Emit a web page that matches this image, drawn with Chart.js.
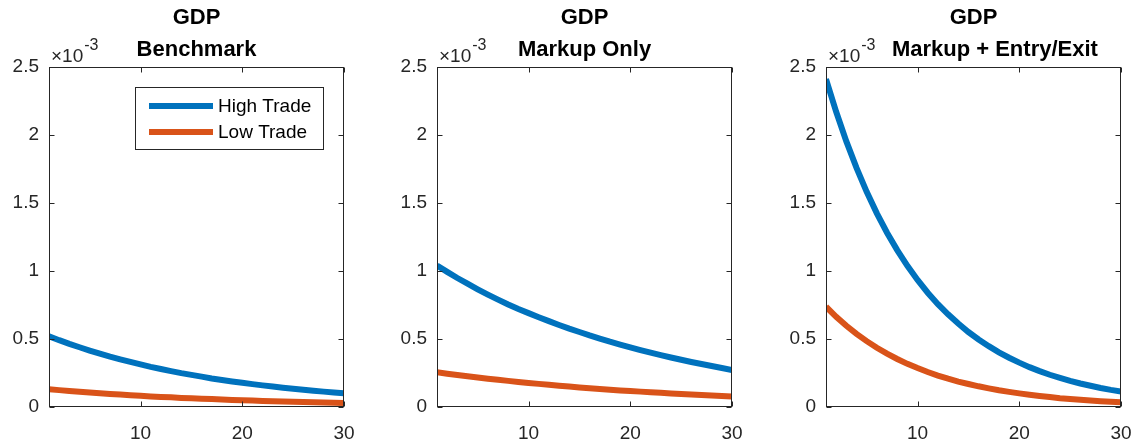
<!DOCTYPE html>
<html>
<head>
<meta charset="utf-8">
<script src="https://cdn.jsdelivr.net/npm/chart.js@4.4.1/dist/chart.umd.min.js"></script>
<style>
  html, body { margin: 0; padding: 0; background: #fff; }
  #wrap { position: relative; width: 1147px; height: 441px; overflow: hidden; }
  #wrap canvas { position: absolute; left: 0; top: 0; }
</style>
</head>
<body>
<div id="wrap">
  <canvas id="p1" width="1147" height="441"></canvas>
  <canvas id="p2" width="1147" height="441"></canvas>
  <canvas id="p3" width="1147" height="441"></canvas>
</div>
<script>
// values are in units of 1e-3
const periods = [1,2,3,4,5,6,7,8,9,10,11,12,13,14,15,16,17,18,19,20,21,22,23,24,25,26,27,28,29,30];

const benchHigh = [0.520,0.491,0.464,0.439,0.415,0.392,0.370,0.350,0.331,0.313,0.295,0.279,0.264,0.249,0.236,
                   0.223,0.210,0.199,0.188,0.178,0.168,0.159,0.150,0.142,0.134,0.126,0.119,0.113,0.107,0.101];
const benchLow  = [0.130,0.124,0.118,0.112,0.106,0.101,0.096,0.091,0.087,0.082,0.078,0.074,0.071,0.067,0.064,
                   0.061,0.058,0.055,0.052,0.050,0.047,0.045,0.043,0.041,0.039,0.037,0.035,0.033,0.031,0.030];

const markupHigh = [1.040,0.993,0.948,0.906,0.865,0.826,0.789,0.753,0.720,0.690,0.660,0.631,0.603,0.576,0.551,
                    0.526,0.503,0.480,0.459,0.438,0.418,0.399,0.381,0.364,0.347,0.331,0.316,0.301,0.287,0.272];
const markupLow  = [0.255,0.245,0.235,0.226,0.217,0.208,0.200,0.192,0.184,0.177,0.170,0.163,0.156,0.150,0.144,
                    0.138,0.133,0.127,0.122,0.117,0.113,0.108,0.104,0.100,0.096,0.092,0.088,0.085,0.081,0.078];

const entryHigh = [2.410,2.169,1.952,1.757,1.581,1.423,1.281,1.153,1.037,0.934,0.840,0.756,0.681,0.613,0.551,
                   0.496,0.447,0.402,0.362,0.326,0.293,0.264,0.237,0.214,0.192,0.173,0.156,0.140,0.126,0.114];
const entryLow  = [0.737,0.663,0.597,0.537,0.484,0.435,0.392,0.353,0.317,0.286,0.257,0.231,0.208,0.187,0.169,
                   0.152,0.137,0.123,0.111,0.100,0.090,0.081,0.073,0.065,0.059,0.053,0.048,0.043,0.039,0.035];

const seriesNames = ['High Trade', 'Low Trade'];
// third subtitle is pushed right of the x10^-3 label, as in the original
const panelTitles = [['GDP', 'Benchmark'], ['GDP', 'Markup Only'], ['GDP', '       Markup + Entry/Exit']];
const xTicks = [10, 20, 30];
const yTicks = [0, 0.5, 1, 1.5, 2, 2.5];

const FONT = '"Liberation Sans", Arial, Helvetica, sans-serif';
const BLUE = '#0072BD';
const ORANGE = '#D95319';
const AXIS = '#262626';

// axes box + inward ticks, like matlab
const boxPlugin = {
  id: 'box',
  afterDatasetsDraw(chart) {
    const { ctx, chartArea: a, scales } = chart;
    const L = Math.round(a.left) + 0.5, R = Math.round(a.right) - 0.5;
    const T = Math.round(a.top) + 0.5, B = Math.round(a.bottom) - 0.5;
    const tl = 5;
    ctx.save();
    ctx.strokeStyle = AXIS;
    ctx.lineWidth = 1;
    ctx.strokeRect(L, T, R - L, B - T);
    ctx.beginPath();
    scales.x.ticks.forEach(t => {
      const px = Math.round(scales.x.getPixelForValue(t.value)) + 0.5;
      ctx.moveTo(px, B); ctx.lineTo(px, B - tl);
      ctx.moveTo(px, T); ctx.lineTo(px, T + tl);
    });
    scales.y.ticks.forEach(t => {
      const py = Math.round(scales.y.getPixelForValue(t.value)) + 0.5;
      ctx.moveTo(L, py); ctx.lineTo(L + tl, py);
      ctx.moveTo(R, py); ctx.lineTo(R - tl, py);
    });
    ctx.stroke();

    // exponent label
    ctx.fillStyle = AXIS;
    ctx.textBaseline = 'alphabetic';
    ctx.textAlign = 'left';
    ctx.font = '19px ' + FONT;
    const base = '\u00d710';
    ctx.fillText(base, a.left + 2, 62);
    const w = ctx.measureText(base).width;
    ctx.font = '16px ' + FONT;
    ctx.fillText('-3', a.left + 3 + w, 50);
    ctx.restore();
  }
};

// legend drawn inside the first axes
const legendBox = {
  id: 'legendBox',
  afterDatasetsDraw(chart, args, opts) {
    if (!opts.show) return;
    const { ctx, chartArea: a } = chart;
    const x0 = Math.round(a.left) + 86, y0 = Math.round(a.top) + 20;
    const w = 188, h = 62;
    ctx.save();
    ctx.fillStyle = '#fff';
    ctx.fillRect(x0, y0, w, h);
    ctx.strokeStyle = AXIS;
    ctx.lineWidth = 1;
    ctx.strokeRect(x0 + 0.5, y0 + 0.5, w, h);
    ctx.font = '19px ' + FONT;
    ctx.textBaseline = 'middle';
    ctx.textAlign = 'left';
    chart.data.datasets.forEach((ds, i) => {
      const y = y0 + 19 + i * 26;
      ctx.strokeStyle = ds.borderColor;
      ctx.lineWidth = 6;
      ctx.beginPath();
      ctx.moveTo(x0 + 14, y);
      ctx.lineTo(x0 + 78, y);
      ctx.stroke();
      ctx.fillStyle = '#000';
      ctx.fillText(ds.label, x0 + 83, y + 1);
    });
    ctx.restore();
  }
};

const panelLeft = [49, 437, 826];
const panelRight = [344, 732, 1121];
const panelData = [[benchHigh, benchLow], [markupHigh, markupLow], [entryHigh, entryLow]];
const Y_W = 48, X_H = 34;

function makePanel(id, k) {
  const colors = [BLUE, ORANGE];
  new Chart(document.getElementById(id), {
    type: 'line',
    data: {
      datasets: panelData[k].map((vals, i) => ({
        label: seriesNames[i],
        data: periods.map((t, j) => ({ x: t, y: vals[j] })),
        borderColor: colors[i],
        backgroundColor: colors[i],
        borderWidth: 6,
        pointRadius: 0,
        tension: 0,
        fill: false
      }))
    },
    options: {
      responsive: false,
      animation: false,
      events: [],
      layout: {
        padding: { left: panelLeft[k] - Y_W, right: 1147 - panelRight[k], top: 0, bottom: 0 }
      },
      plugins: {
        legend: { display: false },
        tooltip: { enabled: false },
        title: {
          display: true,
          text: panelTitles[k],
          fullSize: false,
          color: '#000',
          font: { family: FONT, size: 22, weight: 'bold', lineHeight: 1.45 },
          padding: { top: 2, bottom: 1 }
        },
        legendBox: { show: k === 0 }
      },
      scales: {
        x: {
          type: 'linear',
          min: 1,
          max: 30,
          afterBuildTicks: s => { s.ticks = xTicks.map(v => ({ value: v })); },
          afterFit: s => { s.height = X_H; },
          grid: { display: false, drawTicks: false },
          border: { display: false },
          ticks: { color: AXIS, font: { family: FONT, size: 19 }, padding: 15, maxRotation: 0,
                   callback: v => String(v) }
        },
        y: {
          type: 'linear',
          min: 0,
          max: 2.5,
          afterBuildTicks: s => { s.ticks = yTicks.map(v => ({ value: v })); },
          afterFit: s => { s.width = Y_W; },
          grid: { display: false, drawTicks: false },
          border: { display: false },
          ticks: { color: AXIS, font: { family: FONT, size: 19 }, padding: 10,
                   callback: v => String(v) }
        }
      }
    },
    plugins: [boxPlugin, legendBox]
  });
}

makePanel('p1', 0);
makePanel('p2', 1);
makePanel('p3', 2);
</script>
</body>
</html>
